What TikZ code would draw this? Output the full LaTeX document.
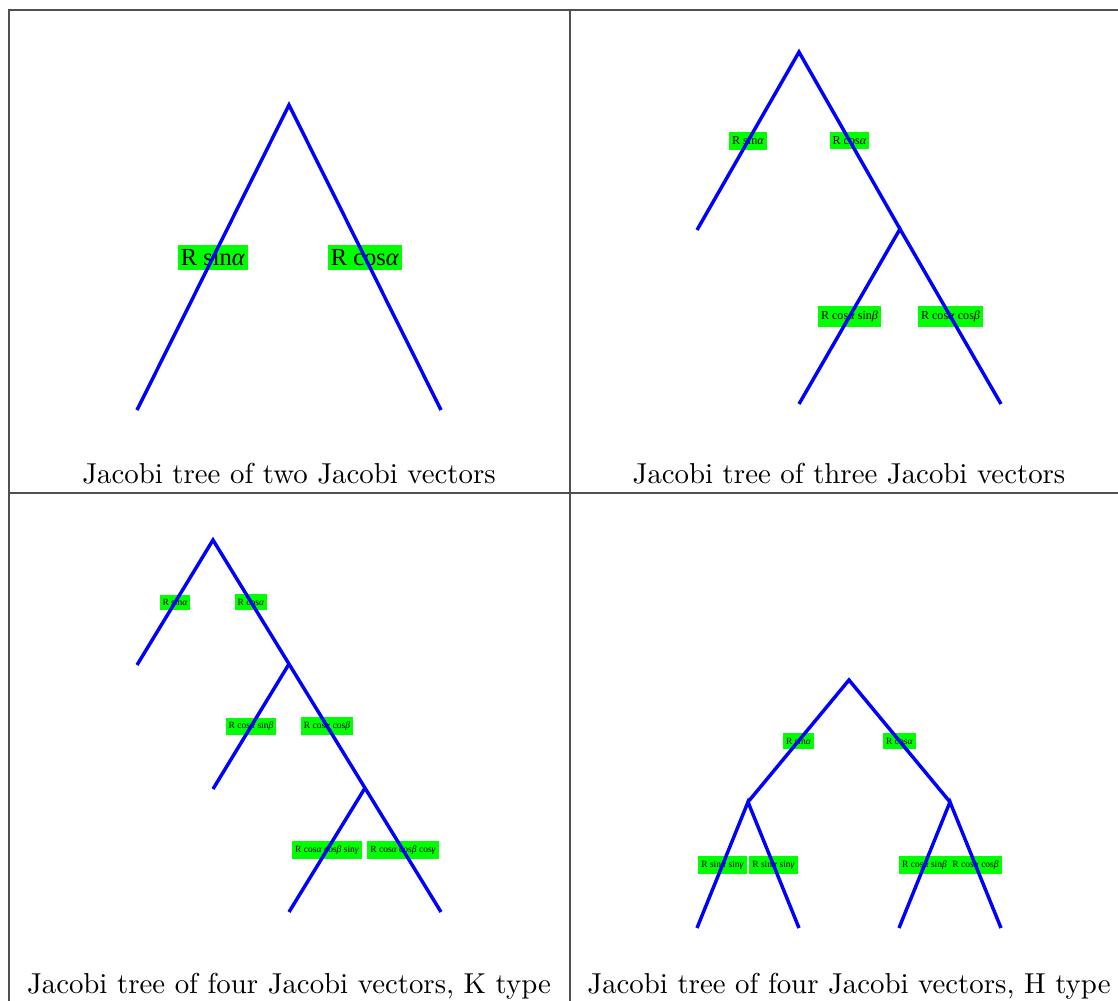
\documentclass[tikz,border=0pt]{standalone}
\usepackage{fontspec}
\usepackage{tikz}
\usetikzlibrary{positioning}
\newfontfamily\tagfont{Liberation Serif}
\newcommand{\ga}{\textit{α}}
\newcommand{\gb}{\textit{β}}
\newcommand{\gc}{\textit{γ}}
\definecolor{treeblue}{HTML}{0000FF}
\definecolor{taggreen}{HTML}{00FF00}
\definecolor{rulegray}{HTML}{505050}
\tikzset{
  branch/.style={draw=treeblue,line width=1.2pt},
  tagbox/.style={fill=taggreen,text=black,inner xsep=0.1em,inner ysep=0.16em},
  tagA/.style={tagbox,font=\tagfont\fontsize{8.5}{9}\selectfont},
  tagB/.style={tagbox,font=\tagfont\fontsize{4.2}{5}\selectfont},
  tagC/.style={tagbox,font=\tagfont\fontsize{3.3}{4}\selectfont},
  caption/.style={font=\normalsize,inner sep=0pt},
  cellrule/.style={draw=rulegray,line width=0.4pt}
}

\begin{document}
\begin{tikzpicture}[x=0.347pt,y=-0.347pt]
  \useasboundingbox (0,0) rectangle (1118,1001);
  % table rules
  \coordinate (tl) at (9,10);
  \coordinate (tr) at (1118,10);
  \coordinate (bl) at (9,1001);
  \coordinate (ml) at (9,493);
  \coordinate (mr) at (1118,493);
  \coordinate (mt) at (570,10);
  \coordinate (mb) at (570,1001);
  \draw[cellrule] (bl)--(tl)--(tr);
  \draw[cellrule] (ml)--(mr);
  \draw[cellrule] (mt)--(mb);

  % two Jacobi vectors
  \coordinate (p1a) at (289,105);
  \coordinate (p1l) at (137,410);
  \coordinate (p1r) at (441,410);
  \path (p1a)--(p1l) node[midway,tagA] (p1sa) {R sin\ga};
  \path (p1a)--(p1r) node[midway,tagA] (p1ca) {R cos\ga};
  \draw[branch] (p1l)--(p1a)--(p1r);
  \node[caption] (cap1) at (289,474) {Jacobi tree of two Jacobi vectors};

  % three Jacobi vectors
  \coordinate (p2a) at (799,52);
  \coordinate (p2l) at (697,230);
  \coordinate (p2m) at (900,229);
  \coordinate (p2ml) at (799,404);
  \coordinate (p2mr) at (1001,404);
  \path (p2a)--(p2l) node[midway,tagB] (p2sa) {R sin\ga};
  \path (p2a)--(p2m) node[midway,tagB] (p2ca) {R cos\ga};
  \path (p2m)--(p2ml) node[midway,tagB] (p2sb) {R cos\ga{} sin\gb};
  \path (p2m)--(p2mr) node[midway,tagB] (p2cb) {R cos\ga{} cos\gb};
  \draw[branch] (p2l)--(p2a)--(p2m);
  \draw[branch] (p2ml)--(p2m)--(p2mr);
  \node[caption] (cap2) at (849,474) {Jacobi tree of three Jacobi vectors};

  % four Jacobi vectors, K type
  \coordinate (p3a) at (213,540);
  \coordinate (p3l) at (137,665);
  \coordinate (p3m) at (289,664);
  \coordinate (p3ml) at (213,789);
  \coordinate (p3n) at (365,788);
  \coordinate (p3nl) at (289,912);
  \coordinate (p3nr) at (441,912);
  \path (p3a)--(p3l) node[midway,tagC] (p3sa) {R sin\ga};
  \path (p3a)--(p3m) node[midway,tagC] (p3ca) {R cos\ga};
  \path (p3m)--(p3ml) node[midway,tagC] (p3sb) {R cos\ga{} sin\gb};
  \path (p3m)--(p3n) node[midway,tagC] (p3cb) {R cos\ga{} cos\gb};
  \path (p3n)--(p3nl) node[midway,tagC] (p3sg) {R cos\ga{} cos\gb{} sin\gc};
  \path (p3n)--(p3nr) node[midway,tagC] (p3cg) {R cos\ga{} cos\gb{} cos\gc};
  \draw[branch] (p3l)--(p3a)--(p3m)--(p3n)--(p3nr);
  \draw[branch] (p3m)--(p3ml);
  \draw[branch] (p3n)--(p3nl);
  \node[caption] (cap3) at (289,986) {Jacobi tree of four Jacobi vectors, K type};

  % four Jacobi vectors, H type
  \coordinate (p4a) at (849,680);
  \coordinate (p4l) at (748,802);
  \coordinate (p4r) at (950,802);
  \coordinate (p4ll) at (697,928);
  \coordinate (p4lr) at (799,928);
  \coordinate (p4rl) at (899,928);
  \coordinate (p4rr) at (1001,928);
  \path (p4a)--(p4l) node[midway,tagC] (p4sa) {R sin\ga};
  \path (p4a)--(p4r) node[midway,tagC] (p4ca) {R cos\ga};
  \path (p4l)--(p4ll) node[midway,tagC] (p4sg) {R sin\ga{} sin\gc};
  \path (p4l)--(p4lr) node[midway,tagC] (p4sh) {R sin\ga{} sin\gc};
  \path (p4r)--(p4rl) node[midway,tagC] (p4sb) {R cos\ga{} sin\gb};
  \path (p4r)--(p4rr) node[midway,tagC] (p4cb) {R cos\ga{} cos\gb};
  \draw[branch] (p4l)--(p4a)--(p4r);
  \draw[branch] (p4ll)--(p4l)--(p4lr);
  \draw[branch] (p4rl)--(p4r)--(p4rr);
  \node[caption] (cap4) at (849,986) {Jacobi tree of four Jacobi vectors, H type};
\end{tikzpicture}
\end{document}
